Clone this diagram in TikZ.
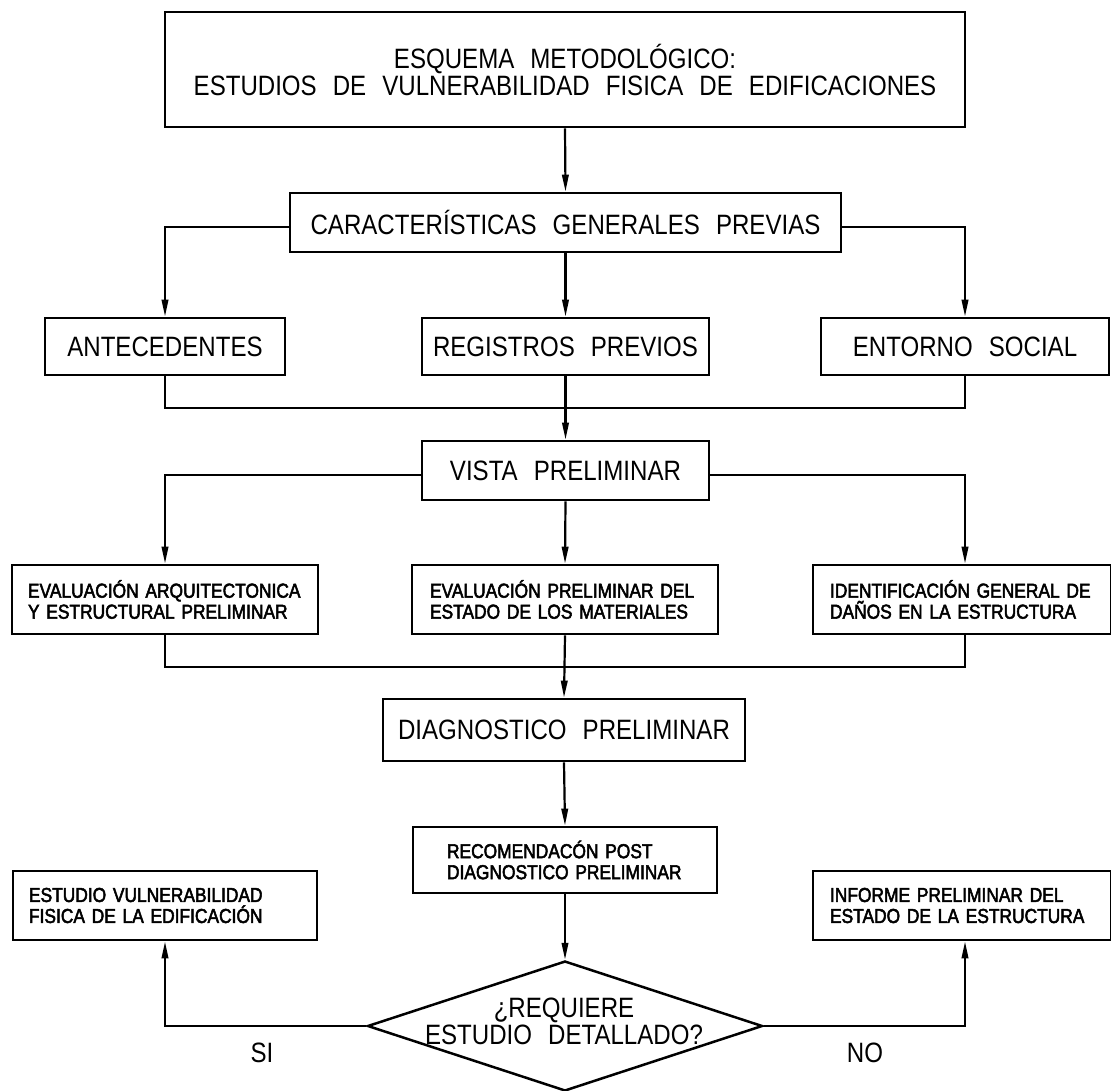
\documentclass[tikz,border=0pt]{standalone}
\usepackage{fontspec}
\setmainfont{Liberation Sans}[FakeStretch=0.86, WordSpace=2.4]
\newfontfamily\boxsmallfont{Liberation Sans}[FakeStretch=0.86, WordSpace=1.8, FakeBold=2.5]
\usetikzlibrary{arrows.meta,shapes.geometric}

\newcommand{\bigtext}{\fontsize{28}{27}\selectfont}
\newcommand{\smalltext}{\boxsmallfont\fontsize{20.2}{21}\selectfont}

\tikzset{
  box/.style={draw, line width=2.7pt, rectangle, inner sep=0pt, align=center, font=\bigtext},
  notebox/.style={draw, line width=2.7pt, rectangle, inner ysep=0pt, align=left, font=\smalltext},
  decision/.style={draw, line width=2.5pt, diamond, inner sep=0pt},
  conn/.style={line width=2.2pt},
  arr/.style={conn, -{Triangle[length=17pt,width=6.5pt]}},
  tag/.style={font=\bigtext, inner sep=0pt}
}

\begin{document}
\begin{tikzpicture}[x=1pt, y=-1pt]
\useasboundingbox (0,0) rectangle (1111,1090);

% title and first level
\node[box, minimum width=800, minimum height=115] (top) at (565,69.5)
  {ESQUEMA METODOLÓGICO:\\ESTUDIOS DE VULNERABILIDAD FISICA DE EDIFICACIONES};
\node[box, minimum width=551, minimum height=59] (car) at (565.5,222.5)
  {CARACTERÍSTICAS GENERALES PREVIAS};

% background studies
\node[box, minimum width=240, minimum height=57] (ante) at (165,346.5) {ANTECEDENTES};
\node[box, minimum width=287, minimum height=57] (reg) at (565.5,346.5) {REGISTROS PREVIOS};
\node[box, minimum width=288, minimum height=57] (ent) at (965,346.5) {ENTORNO SOCIAL};

\node[box, minimum width=287, minimum height=59] (vista) at (565.5,470.5) {VISTA PRELIMINAR};

% preliminary evaluations
\node[notebox, text width=274, inner xsep=16, minimum height=69] (eva) at (165,599.5)
  {EVALUACIÓN ARQUITECTONICA\\Y ESTRUCTURAL PRELIMINAR};
\node[notebox, text width=270, inner xsep=18, minimum height=69] (evp) at (565,599.5)
  {EVALUACIÓN PRELIMINAR DEL\\ESTADO DE LOS MATERIALES};
\node[notebox, text width=264, inner xsep=17, minimum height=69] (idn) at (962,599.5)
  {IDENTIFICACIÓN GENERAL DE\\DAÑOS EN LA ESTRUCTURA};

\node[box, minimum width=362, minimum height=62] (diag) at (564,730) {DIAGNOSTICO PRELIMINAR};

\node[notebox, text width=236, inner xsep=34, minimum height=66] (rec) at (565,860)
  {RECOMENDACÓN POST\\DIAGNOSTICO PRELIMINAR};

% outcomes
\node[notebox, text width=272, inner xsep=16, minimum height=69] (est) at (165,905.5)
  {ESTUDIO VULNERABILIDAD\\FISICA DE LA EDIFICACIÓN};
\node[notebox, text width=264, inner xsep=17, minimum height=69] (inf) at (962,905.5)
  {INFORME PRELIMINAR DEL\\ESTADO DE LA ESTRUCTURA};

\node[decision, minimum width=395, minimum height=130] (dec) at (565,1026) {};
\node[tag, align=center] (dectext) at (564,1021) {¿REQUIERE\\ESTUDIO DETALLADO?};

\node[tag] (si) at (262,1053) {SI};
\node[tag] (no) at (865,1053) {NO};

% junction points of the collector lines
\coordinate (m1) at (565.5,408);
\coordinate (m2) at (565,667);

% connectors
\draw[arr] (top.south) -- (car.north);
\draw[arr] ([yshift=-4.5pt]car.west) -| (ante.north);
\draw[arr] (car.south) -- (reg.north);
\draw[arr] ([yshift=-4.5pt]car.east) -| (ent.north);

\draw[conn] (ante.south) |- (m1) -| (ent.south);
\draw[arr] (reg.south) -- (vista.north);

\draw[arr] ([yshift=-4.5pt]vista.west) -| (eva.north);
\draw[arr] (vista.south) -- (evp.north);
\draw[arr] ([yshift=-4.5pt]vista.east) -| (ent.south |- idn.north);

\draw[conn] (eva.south) |- (m2) -| (ent.south |- idn.south);
\draw[arr] (evp.south) -- (diag.north);

\draw[arr] (diag.south) -- (rec.north);
\draw[arr] (rec.south) -- (dec.north);

\draw[arr] (dec.west) -| (est.south);
\draw[arr] (dec.east) -| (ent.south |- inf.south);
\end{tikzpicture}
\end{document}
